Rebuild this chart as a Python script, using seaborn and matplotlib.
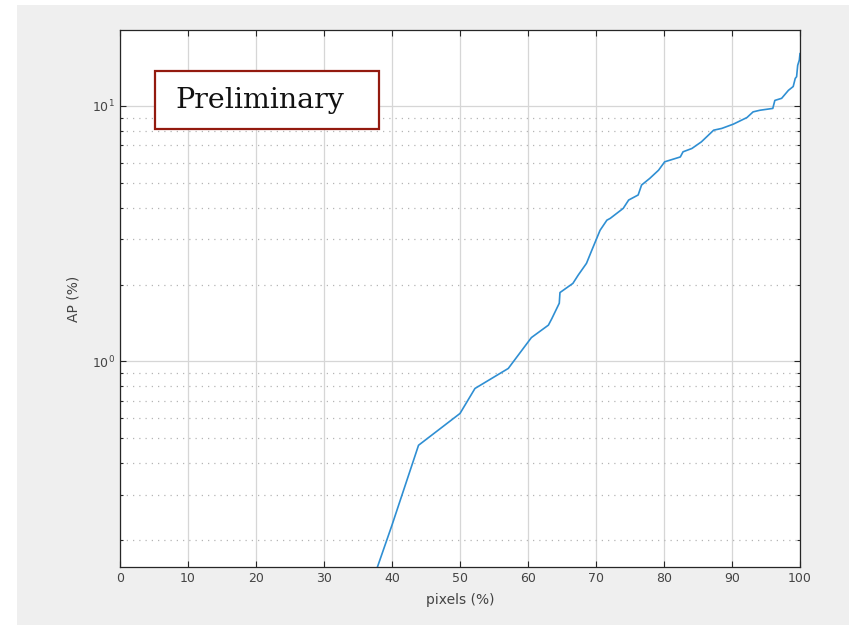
import numpy as np
import pandas as pd
import seaborn as sns
import matplotlib.pyplot as plt
from matplotlib.patches import Rectangle
from matplotlib.ticker import LogLocator, FixedLocator, NullFormatter

# values
pixels_pct = [37.6, 40.0, 43.9, 50.0, 52.2, 57.1, 60.5, 63.0, 63.5, 64.6, 64.7,
              66.6, 67.4, 68.6, 69.4, 70.6, 71.6, 72.1, 74.0, 74.8, 76.2, 76.7,
              77.9, 79.2, 80.1, 82.4, 82.8, 84.1, 85.5, 87.3, 88.5, 90.2, 92.2,
              93.1, 94.1, 96.0, 96.3, 97.3, 98.3, 99.0, 99.3, 99.5, 99.66, 99.9, 100.0]
ap_pct = [0.15, 0.229, 0.47, 0.626, 0.784, 0.939, 1.24, 1.387, 1.47, 1.69, 1.86,
          2.02, 2.18, 2.42, 2.73, 3.26, 3.57, 3.63, 3.97, 4.28, 4.48, 4.90,
          5.20, 5.60, 6.04, 6.31, 6.61, 6.81, 7.23, 8.03, 8.16, 8.48, 9.0,
          9.47, 9.61, 9.77, 10.5, 10.7, 11.5, 11.9, 12.8, 13.0, 14.4, 15.1, 16.0]
x_ticks = list(range(0, 101, 10))

df = pd.DataFrame({'pixels': pixels_pct, 'ap': ap_pct})

fig = plt.figure(figsize=(8.49, 6.25), dpi=100)
fig.patch.set_facecolor('white')
# gray matlab-style window background, offset from the top-left edge
fig.patches.append(Rectangle((17 / 849, 0), 1, 1 - 5 / 625, transform=fig.transFigure,
                             facecolor='#efefef', edgecolor='none', zorder=-10))

ax = fig.add_axes([120 / 849, 1 - 567 / 625, 680 / 849, 537 / 625])
ax.set_facecolor('white')

sns.lineplot(data=df, x='pixels', y='ap', ax=ax, color='#2f8fd3', linewidth=1.2,
             estimator=None, sort=False)

ax.set_yscale('log')
ax.set_xlim(0, 100)
ax.set_ylim(0.157, 19.8)
ax.xaxis.set_major_locator(FixedLocator(x_ticks))
ax.yaxis.set_major_locator(LogLocator(base=10, numticks=10))
ax.yaxis.set_minor_locator(LogLocator(base=10, subs=np.arange(2, 10), numticks=10))
ax.yaxis.set_minor_formatter(NullFormatter())

ax.grid(which='major', axis='both', color='#d6d6d6', linewidth=0.9, linestyle='-')
ax.grid(which='minor', axis='y', color='#b5b5b5', linewidth=0.9, linestyle=(0, (1, 4)))
ax.set_axisbelow(True)

ax.tick_params(which='both', direction='in', top=True, right=True,
               color='#262626', labelcolor='#444444', labelsize=9)
ax.tick_params(which='major', length=4.5, width=0.8)
ax.tick_params(which='minor', length=2.5, width=0.8)
for s in ax.spines.values():
    s.set_color('#262626')
    s.set_linewidth(0.9)

ax.set_xlabel('pixels (%)', fontsize=10, color='#444444', labelpad=6)
ax.set_ylabel('AP (%)', fontsize=10, color='#444444', labelpad=8)

# "Preliminary" stamp
fig.patches.append(Rectangle((155 / 849, 1 - 129 / 625), 224 / 849, 58 / 625,
                             transform=fig.transFigure, facecolor='white',
                             edgecolor='#931a0f', linewidth=1.6, zorder=5))
fig.text(175 / 849, 1 - 101 / 625, 'Preliminary', family='DejaVu Serif', fontsize=20.5,
         ha='left', va='center', color='#111111', zorder=6)

fig.savefig('out.png', dpi=100)
